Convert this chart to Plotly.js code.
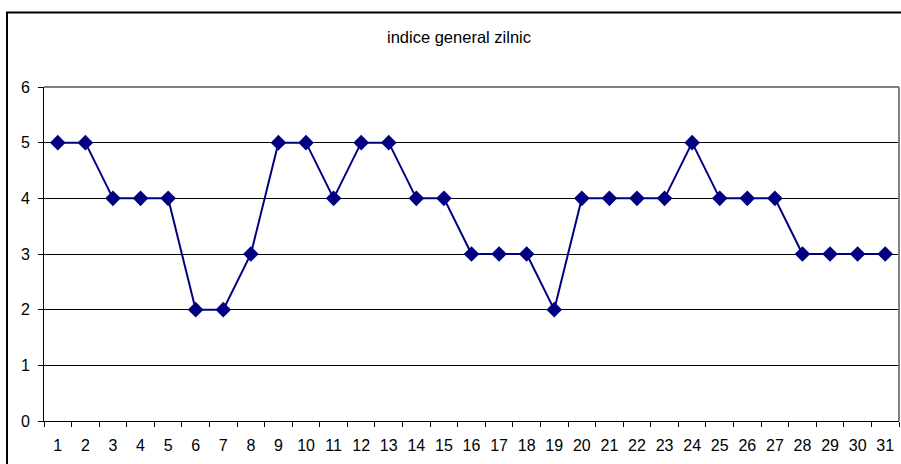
<!DOCTYPE html>
<html>
<head>
<meta charset="utf-8">
<script src="https://cdn.plot.ly/plotly-3.0.1.min.js"></script>
<style>html,body{margin:0;padding:0;background:#fff;}#chart{width:901px;height:464px;}</style>
</head>
<body>
<div id="chart"></div>
<script>
const days = ['1','2','3','4','5','6','7','8','9','10','11','12','13','14','15','16','17','18','19','20','21','22','23','24','25','26','27','28','29','30','31'];
const indexValues = [5,5,4,4,4,2,2,3,5,5,4,5,5,4,4,3,3,3,2,4,4,4,4,5,4,4,4,3,3,3,3];
const yTicks = [0,1,2,3,4,5,6];
const chartTitle = 'indice general zilnic';

const trace = {
  x: days, y: indexValues, type: 'scatter', mode: 'lines+markers',
  line: {color: '#000080', width: 2},
  marker: {symbol: 'diamond', size: 12, color: '#000080'},
  hoverinfo: 'skip'
};
const L = 44, T = 87, W = 855, H = 334;
const layout = {
  width: 901, height: 464,
  margin: {l: L, r: 901 - L - W, t: T, b: 464 - T - H, pad: 0},
  paper_bgcolor: '#fff', plot_bgcolor: '#fff',
  font: {family: 'Liberation Sans, Arial, sans-serif', size: 16, color: '#000'},
  title: {text: chartTitle, font: {size: 16.5, color: '#000'}, xref: 'container', yref: 'container', x: 459/901, xanchor: 'center', y: 1 - 37/464, yanchor: 'middle'},
  showlegend: false,
  xaxis: {
    type: 'category', tickson: 'boundaries', ticks: 'outside', ticklen: 5, tickcolor: '#000', tickwidth: 1,
    showline: true, linecolor: '#000', linewidth: 1, showgrid: false, zeroline: false,
    tickfont: {size: 16}, ticklabelstandoff: 10, range: [-0.5, 30.5], fixedrange: true
  },
  yaxis: {
    range: [0, 6], tickvals: yTicks, ticks: 'outside', ticklen: 5, tickcolor: '#000', tickwidth: 1,
    showline: true, linecolor: '#000', linewidth: 1, showgrid: true, gridcolor: '#000', gridwidth: 1,
    zeroline: false, tickfont: {size: 16}, ticklabelstandoff: 5, fixedrange: true
  },
  shapes: [
    {type: 'line', xref: 'paper', yref: 'paper', x0: 0, x1: 1, y0: 1, y1: 1, line: {color: '#808080', width: 2}, layer: 'above'},
    {type: 'line', xref: 'paper', yref: 'paper', x0: 1, x1: 1, y0: 0, y1: 1, line: {color: '#808080', width: 2}, layer: 'above'},
    {type: 'rect', xref: 'paper', yref: 'paper', x0: (7 - L) / W, x1: 1.2, y0: -0.5, y1: 1 + (T - 12.5) / H, line: {color: '#000', width: 2}, fillcolor: 'rgba(0,0,0,0)', layer: 'above'}
  ]
};
Plotly.newPlot('chart', [trace], layout, {displayModeBar: false, staticPlot: true});
</script>
</body>
</html>
